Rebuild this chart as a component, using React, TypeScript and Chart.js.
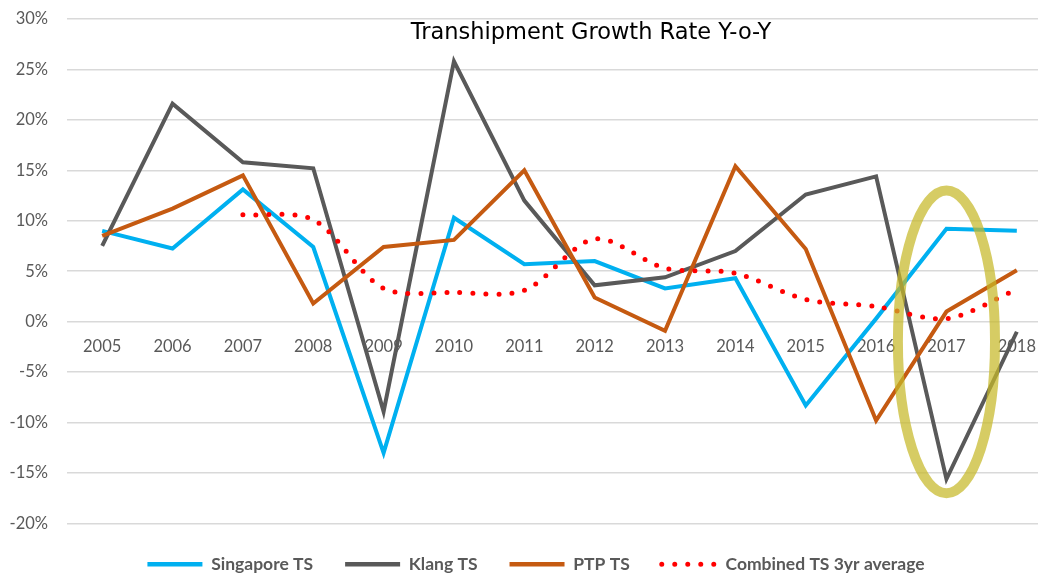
import React, { useEffect, useRef } from "react";
import { Chart, registerables } from "chart.js";

Chart.register(...registerables);

const chartTitle = "Transhipment Growth Rate Y-o-Y";
const years = ["2005", "2006", "2007", "2008", "2009", "2010", "2011", "2012", "2013", "2014", "2015", "2016", "2017", "2018"];
const singaporeTS = [9.0, 7.25, 13.1, 7.4, -13.0, 10.3, 5.7, 6.0, 3.3, 4.3, -8.3, 0.3, 9.2, 9.0];
const klangTS = [7.5, 21.6, 15.8, 15.2, -8.9, 25.8, 12.0, 3.6, 4.4, 7.0, 12.6, 14.4, -15.6, -1.0];
const ptpTS = [8.5, 11.2, 14.5, 1.8, 7.4, 8.1, 15.0, 2.4, -0.9, 15.4, 7.2, -9.8, 1.0, 5.1];
const combined3yr = [null, null, 10.6, 10.1, 3.3, 2.9, 3.1, 8.2, 5.3, 4.8, 2.2, 1.5, 0.3, 3.2];
const yMin = -20;
const yMax = 30;
const yStep = 5;
// highlight ellipse, in data units
const highlightCategory = "2017";
const highlightCenterValue = -2;
const highlightValueRadius = 15;
const highlightCategoryRadius = 0.69;

const titlePlugin = {
  id: "insideTitle",
  afterDraw(chart: any) {
    const ctx = chart.ctx;
    ctx.save();
    ctx.font = "22.5px 'DejaVu Sans'";
    ctx.fillStyle = "#000000";
    ctx.textAlign = "center";
    ctx.textBaseline = "alphabetic";
    ctx.fillText(chartTitle, 591, 49);
    ctx.restore();
  },
};

const legendShiftPlugin = {
  id: "legendShift",
  afterLayout(chart: any) {
    if (chart.legend) {
      chart.legend.left += 10;
      chart.legend.right += 10;
    }
  },
};

const ellipsePlugin = {
  id: "highlightEllipse",
  afterDatasetsDraw(chart: any) {
    const xs = chart.scales.x;
    const ys = chart.scales.y;
    const idx = years.indexOf(highlightCategory);
    const cx = xs.getPixelForValue(idx);
    const cy = ys.getPixelForValue(highlightCenterValue);
    const rx = Math.abs(xs.getPixelForValue(idx + highlightCategoryRadius) - cx);
    const ry = Math.abs(ys.getPixelForValue(highlightCenterValue + highlightValueRadius) - cy);
    const ctx = chart.ctx;
    ctx.save();
    ctx.beginPath();
    ctx.ellipse(cx, cy, rx, ry, 0, 0, Math.PI * 2);
    ctx.lineWidth = 10;
    ctx.strokeStyle = "rgba(198, 184, 40, 0.72)";
    ctx.stroke();
    ctx.restore();
  },
};

export default function App() {
  const ref = useRef<HTMLCanvasElement>(null);
  useEffect(() => {
    if (!ref.current) return;
    const chart = new Chart(ref.current, {
      type: "line",
      data: {
        labels: years,
        datasets: [
          {
            label: "Singapore TS",
            data: singaporeTS,
            borderColor: "#00B0F0",
            backgroundColor: "#00B0F0",
            borderWidth: 4,
            pointRadius: 0,
            tension: 0,
            order: 4,
          },
          {
            label: "Klang TS",
            data: klangTS,
            borderColor: "#595959",
            backgroundColor: "#595959",
            borderWidth: 4,
            pointRadius: 0,
            tension: 0,
            order: 3,
          },
          {
            label: "PTP TS",
            data: ptpTS,
            borderColor: "#C55A11",
            backgroundColor: "#C55A11",
            borderWidth: 4,
            pointRadius: 0,
            tension: 0,
            order: 2,
          },
          {
            label: "Combined TS 3yr average",
            data: combined3yr,
            borderColor: "#FF0000",
            backgroundColor: "#FF0000",
            borderWidth: 5,
            borderDash: [0, 13],
            borderCapStyle: "round",
            pointRadius: 0,
            tension: 0.3,
            order: 1,
          },
        ],
      },
      options: {
        animation: false,
        responsive: false,
        devicePixelRatio: 1,
        layout: { padding: { left: 0, top: 7, right: 0, bottom: 0 } },
        plugins: {
          legend: {
            position: "bottom",
            labels: {
              usePointStyle: true,
              pointStyle: "line",
              pointStyleWidth: 55,
              padding: 32,
              color: "#595959",
              font: { family: "Lato", size: 17.5, weight: "bold" },
              sort: (a: any, b: any) => a.datasetIndex - b.datasetIndex,
              generateLabels: (chart: any) => {
                const items = (Chart as any).defaults.plugins.legend.labels.generateLabels(chart);
                return items.map((it: any) => {
                  const ds = chart.data.datasets[it.datasetIndex];
                  return {
                    ...it,
                    lineDash: ds.borderDash || [],
                    lineCap: ds.borderCapStyle || "butt",
                    lineWidth: ds.borderDash ? 5 : 4.5,
                    strokeStyle: ds.borderColor,
                    fillStyle: ds.borderColor,
                    pointStyle: "line",
                  };
                });
              },
            },
          },
          tooltip: { enabled: false },
          title: { display: false },
        },
        scales: {
          x: {
            type: "category",
            position: { y: 0 } as any,
            offset: true,
            grid: { display: false, drawTicks: false },
            border: { display: false },
            ticks: {
              color: "#595959",
              font: { family: "Lato", size: 16.5 },
              padding: 15,
              maxRotation: 0,
              autoSkip: false,
            },
          },
          y: {
            min: yMin,
            max: yMax,
            grid: { color: "#D9D9D9", lineWidth: 1.5, drawTicks: false },
            border: { display: false },
            afterFit: (scale: any) => {
              scale.width = 67;
            },
            ticks: {
              stepSize: yStep,
              color: "#595959",
              font: { family: "Lato", size: 16.5 },
              padding: 19,
              callback: (v: any) => `${v}%`,
            },
          },
        },
      },
      plugins: [ellipsePlugin, titlePlugin, legendShiftPlugin],
    });
    return () => chart.destroy();
  }, []);
  return (
    <div
      style={{
        position: "fixed",
        left: 0,
        top: 0,
        width: 1038,
        height: 575,
        overflow: "hidden",
        background: "#ffffff",
      }}
    >
      <canvas
        ref={ref}
        width={1052}
        height={593}
        style={{ display: "block", position: "absolute", left: 0, top: -10 }}
      />
    </div>
  );
}
